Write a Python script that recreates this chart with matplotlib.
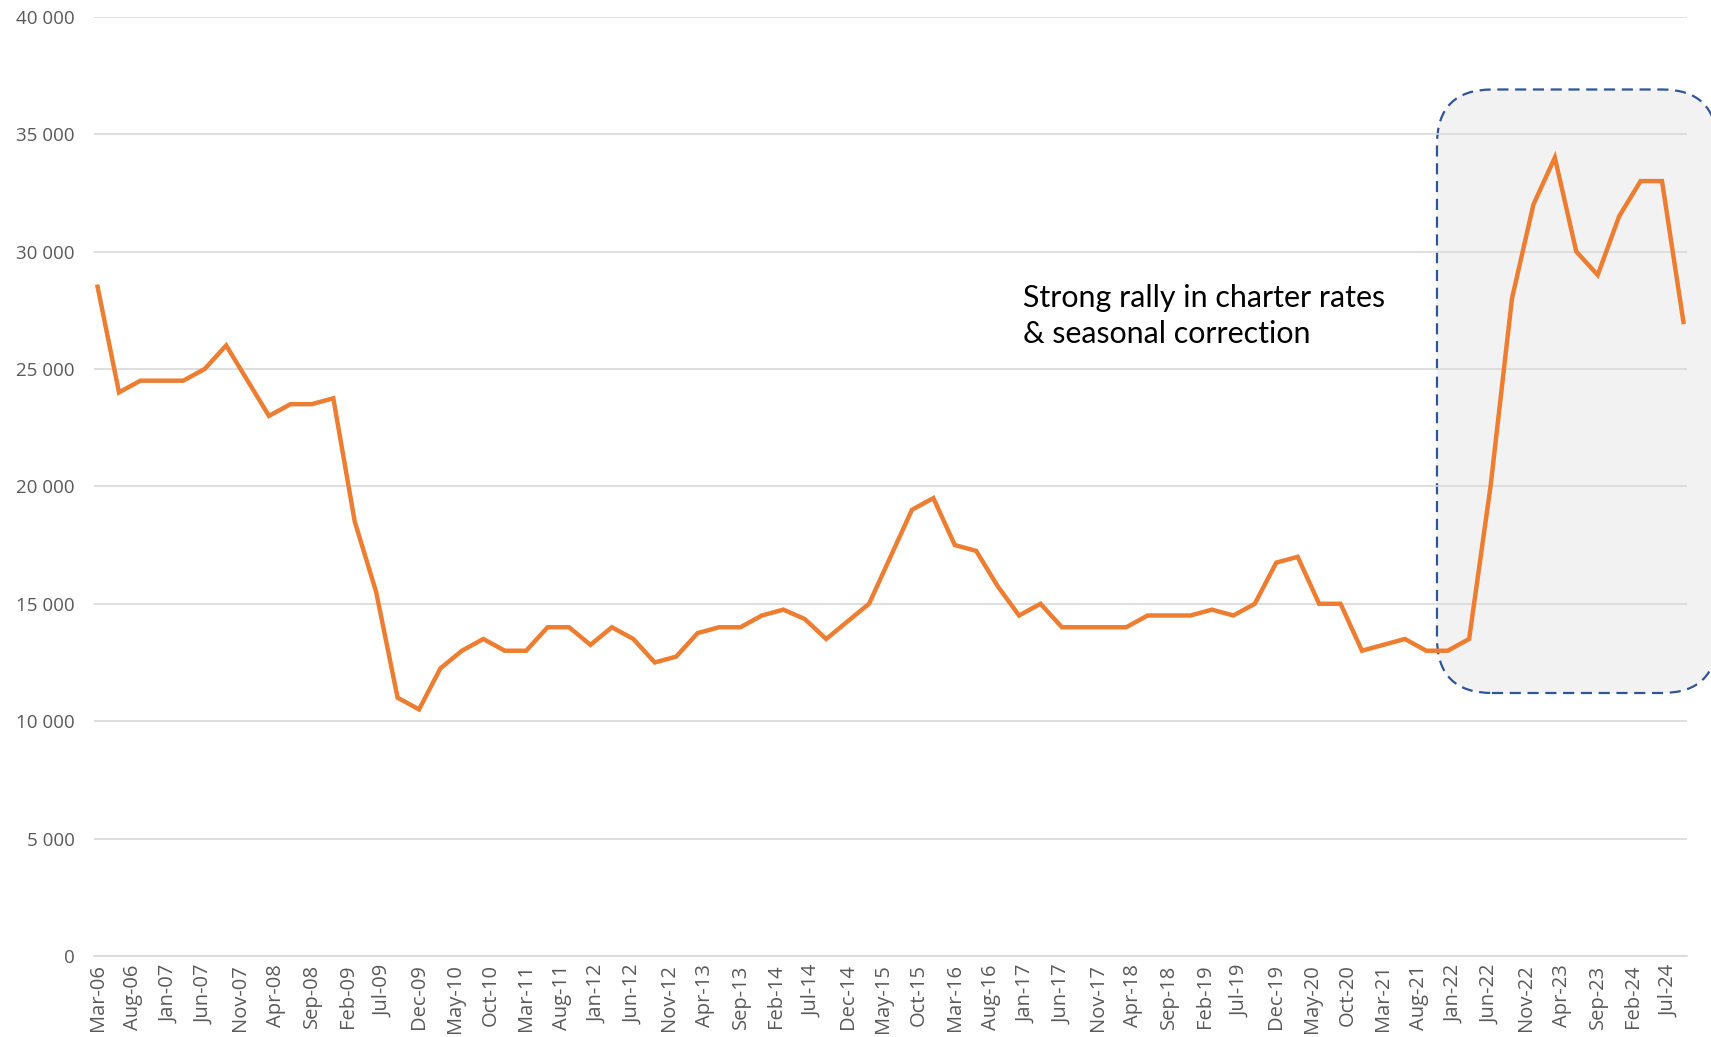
import matplotlib
matplotlib.use("Agg")
import matplotlib.pyplot as plt
import pandas as pd
from matplotlib.patches import FancyBboxPatch
from matplotlib.transforms import IdentityTransform

# quarterly charter rates, Mar-06 .. Sep-24
quarters = pd.date_range("2006-03-01", "2024-09-01", freq="3MS")
rates = [
    28500, 24000, 24500, 24500, 24500, 25000, 26000, 24500,   # 2006-2007
    23000, 23500, 23500, 23750, 18500, 15500, 11000, 10500,   # 2008-2009
    12250, 13000, 13500, 13000, 13000, 14000, 14000, 13250,   # 2010-2011
    14000, 13500, 12500, 12750, 13750, 14000, 14000, 14500,   # 2012-2013
    14750, 14350, 13500, 14250, 15000, 17000, 19000, 19500,   # 2014-2015
    17500, 17250, 15750, 14500, 15000, 14000, 14000, 14000,   # 2016-2017
    14000, 14500, 14500, 14500, 14750, 14500, 15000, 16750,   # 2018-2019
    17000, 15000, 15000, 13000, 13250, 13500, 13000, 13000,   # 2020-2021
    13500, 20000, 28000, 32000, 34000, 30000, 29000, 31500,   # 2022-2023
    33000, 33000, 27000,                                      # 2024
]

# x-axis labels every 5 months
tick_dates = pd.date_range("2006-03-01", "2024-07-01", freq="5MS")
tick_labels = [d.strftime("%b-%y") for d in tick_dates]

# highlighted period (month index / value)
box_x = (187.5, 226.7)
box_y = (11200, 36900)
note = "Strong rally in charter rates\n& seasonal correction"


def month_idx(d):
    return (d.year - 2006) * 12 + d.month - 3


x = [month_idx(d) for d in quarters]
xt = [month_idx(d) for d in tick_dates]

W, H = 1711, 1037
fig = plt.figure(figsize=(W / 100, H / 100), dpi=100)
ax = fig.add_axes([94 / W, 81 / H, (1687 - 94) / W, (956 - 16.7) / H])

ax.plot(x, rates, color="#ED7D31", lw=3.2, zorder=3, solid_joinstyle="miter")

ax.set_xlim(-0.5, 222.5)
ax.set_ylim(0, 40000)
ax.set_yticks(range(0, 40001, 5000))
ax.set_yticklabels([f"{v:,}".replace(",", " ") for v in range(0, 40001, 5000)])
ax.set_xticks(xt)
ax.set_xticklabels(tick_labels, rotation=90)

ax.grid(axis="y", color="#D9D9D9", lw=1.2)
ax.set_axisbelow("line")
for s in ["top", "right", "left"]:
    ax.spines[s].set_visible(False)
ax.spines["bottom"].set_color("#D9D9D9")
ax.spines["bottom"].set_linewidth(1.2)
ax.tick_params(length=0, labelcolor="#595959", labelsize=13.5)
ax.tick_params(axis="y", pad=14)
ax.tick_params(axis="x", pad=6, labelsize=14.5)
for lab in ax.get_xticklabels() + ax.get_yticklabels():
    lab.set_fontfamily("Open Sans")

# rounded dashed box, in pixel space so the corners stay round
(px0, py0), (px1, py1) = ax.transData.transform([(box_x[0], box_y[0]), (box_x[1], box_y[1])])
box = FancyBboxPatch((px0, py0), px1 - px0, py1 - py0,
                     boxstyle="round,pad=0,rounding_size=55",
                     transform=IdentityTransform(), facecolor="#F2F2F2",
                     edgecolor="#2F5597", lw=1.6, ls=(0, (5, 3)),
                     zorder=1, clip_on=False)
ax.add_patch(box)

ax.text(129.5, 27250, note, fontsize=21.9, family="Lato", color="black",
        ha="left", va="center", linespacing=1.38)

fig.savefig("out.png", dpi=100)
